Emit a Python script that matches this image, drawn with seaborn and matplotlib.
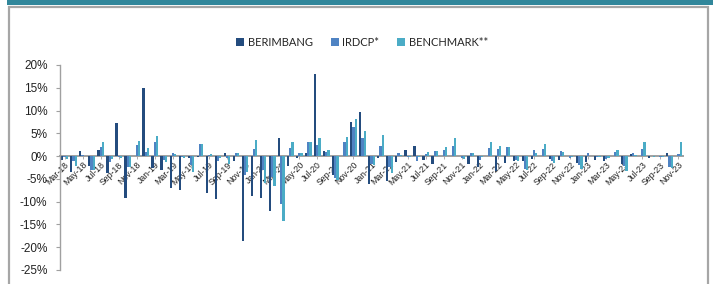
import matplotlib
matplotlib.use('Agg')
import matplotlib.pyplot as plt
import seaborn as sns
import pandas as pd
from matplotlib.patches import Rectangle, Patch
from matplotlib.ticker import FixedLocator, FixedFormatter

sns.set_style('white')
plt.rcParams['font.family'] = ['Lato', 'DejaVu Sans']

months = list(pd.date_range('2018-03-01', periods=69, freq='MS').strftime('%b-%y'))

series = ['BERIMBANG', 'IRDCP*', 'BENCHMARK**']
colors = ['#244C7E', '#4F83C3', '#4BACC6']

berimbang = [-0.8, -3.4, 1.1, -2.1, 1.4, -3.8, 7.3, -9.3, 0.1, 15.0,
             -2.6, -3.0, -7.1, -7.4, -0.4, -0.2, -8.2, -9.5, 0.6, -1.0,
             -18.7, -8.7, -9.3, -12.0, 4.0, -2.1, -0.4, 0.7, 18.1, 1.2,
             -4.2, 0.0, 7.4, 9.6, -6.1, -0.4, -5.4, -1.3, 1.3, 2.3,
             -0.8, -1.7, 0.0, 0.0, 0.0, -1.7, -2.4, 0.0, -3.2, -1.6,
             -1.0, -1.0, -0.6, 0.0, -0.6, -0.8, 0.1, -1.6, -1.3, -0.8,
             -1.1, 0.0, -1.7, 0.4, 0.0, -0.4, 0.1, 0.7, 0.0]
irdcp = [-0.3, -1.0, 0.2, -3.0, 1.9, -1.2, -0.3, -2.3, 2.4, 1.0,
         3.1, -0.8, 0.7, -0.3, -2.0, 2.7, 0.2, -1.0, -0.5, 0.7,
         -4.2, 1.6, -3.0, -4.5, -10.6, 1.8, 0.7, 3.0, 2.4, 1.0,
         -4.8, 3.1, 6.4, 4.0, -1.7, 2.3, -2.4, 0.7, -0.2, -1.0,
         0.5, 1.1, 1.4, 2.2, -0.4, 0.7, -0.8, 1.8, 1.6, 1.9,
         -0.8, -2.8, 1.3, 1.6, -1.0, 1.1, -0.4, -1.9, 0.7, -0.2,
         -0.7, 0.9, -2.1, 0.7, 1.6, 0.1, -0.1, -2.4, 0.5]
benchmark = [-0.6, -2.1, 0.1, -3.0, 3.2, -0.7, -0.5, -2.3, 3.3, 1.8,
             4.5, -1.2, 0.5, -0.5, -3.5, 2.6, 0.4, -0.5, -1.8, 0.7,
             -3.5, 3.5, -6.0, -6.5, -14.3, 3.0, 0.7, 3.0, 3.9, 1.4,
             -5.3, 4.3, 8.1, 5.5, -1.9, 4.7, -3.6, 0.3, -0.3, -0.2,
             0.9, 1.2, 1.9, 3.9, -0.6, 0.7, -0.2, 3.0, 2.2, 2.0,
             -1.0, -3.0, 0.7, 2.7, -1.6, 0.9, -0.2, -2.8, 0.0, -0.1,
             -0.4, 1.4, -3.2, 0.3, 3.0, -0.1, -0.1, -2.7, 3.0]

tick_labels = ['Mar-18', 'May-18', 'Jul-18', 'Sep-18', 'Nov-18', 'Jan-19', 'Mar-19',
               'May-19', 'Jul-19', 'Sep-19', 'Nov-19', 'Jan-20', 'Mar-20', 'May-20',
               'Jul-20', 'Sep-20', 'Nov-20', 'Jan-21', 'Mar-21', 'May-21', 'Jul-21',
               'Sep-21', 'Nov-21', 'Jan-22', 'Mar-22', 'May-22', 'Jul-22', 'Sep-22',
               'Nov-22', 'Jan-23', 'Mar-23', 'May-23', 'Jul-23', 'Sep-23', 'Nov-23']
y_ticks = [-25, -20, -15, -10, -5, 0, 5, 10, 15, 20]

n = len(months)
df = pd.DataFrame({
    'pos': list(range(n)) * 3,
    'month': months * 3,
    'series': [series[0]] * n + [series[1]] * n + [series[2]] * n,
    'value': berimbang + irdcp + benchmark,
})

W, H = 713, 284
fig = plt.figure(figsize=(W / 100, H / 100), dpi=100)
fig.patch.set_facecolor('white')

# header band and frame
fig.patches.append(Rectangle((7 / W, 1 - 5 / H), 1 - 7 / W, 5 / H, transform=fig.transFigure,
                             facecolor='#31879B', edgecolor='none', zorder=0))
fig.patches.append(Rectangle((8.5 / W, -0.05), (708 - 8.5) / W, 1.05 - 6.5 / H, transform=fig.transFigure,
                             facecolor='none', edgecolor='#A6A6A6', linewidth=1.6, zorder=0))

ax = fig.add_axes([60 / W, 1 - 270 / H, (683 - 60) / W, (270 - 65) / H])
sns.barplot(data=df, x='pos', y='value', hue='series', hue_order=series, native_scale=True,
            palette=colors, width=0.74, saturation=1, ax=ax, legend=False,
            linewidth=0, edgecolor='none')

ax.set_xlim(-0.5, n - 0.5)
ax.set_ylim(-25, 20)
ax.set_xlabel('')
ax.set_ylabel('')
for s in ['top', 'right']:
    ax.spines[s].set_visible(False)
ax.spines['left'].set_color('#A0A0A0')
ax.spines['left'].set_linewidth(1.0)
ax.spines['bottom'].set_position(('data', 0))
ax.spines['bottom'].set_color('#A0A0A0')
ax.spines['bottom'].set_linewidth(1.4)
ax.spines['bottom'].set_zorder(0.5)
ax.set_facecolor('none')
ax.grid(False)

ax.yaxis.set_major_locator(FixedLocator(y_ticks))
ax.yaxis.set_major_formatter(FixedFormatter([f'{v}%' for v in y_ticks]))
ax.xaxis.set_major_locator(FixedLocator(list(range(0, n, 2))))
ax.xaxis.set_major_formatter(FixedFormatter(tick_labels))
ax.xaxis.set_minor_locator(FixedLocator([]))
ax.tick_params(axis='y', length=3, width=0.8, color='#A0A0A0', pad=6, left=True,
               labelsize=8.5, labelcolor='#222222')
ax.tick_params(axis='x', length=2, width=0.6, color='#A0A0A0', pad=1, bottom=True,
               labelsize=6.3, labelcolor='#222222', labelrotation=45)
for lab in ax.get_yticklabels():
    lab.set_family(['Liberation Sans', 'DejaVu Sans'])
for lab in ax.get_xticklabels():
    lab.set_rotation_mode('anchor')
    lab.set_horizontalalignment('right')
    lab.set_verticalalignment('top')
    lab.set_family(['Liberation Sans', 'DejaVu Sans'])

handles = [Patch(facecolor=c, edgecolor='none', label=s) for c, s in zip(colors, series)]
fig.legend(handles=handles, loc='center', bbox_to_anchor=(362 / W, 1 - 42 / H), ncol=3,
           frameon=False, fontsize=8, handlelength=0.75, handleheight=0.75,
           handletextpad=0.3, columnspacing=1.6)

fig.savefig('out.png', dpi=100, facecolor='white')
